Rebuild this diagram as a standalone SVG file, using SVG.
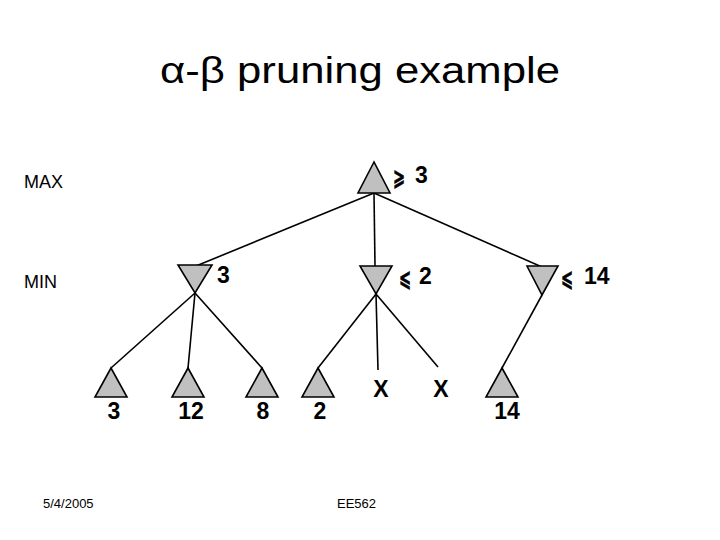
<svg xmlns="http://www.w3.org/2000/svg" width="720" height="540" viewBox="0 0 720 540">
<style>
.tri{fill:#c0c0c0;stroke:#000;stroke-width:1.6;stroke-linejoin:miter}
.edge{stroke:#000;stroke-width:1.6;fill:none}
.val{font-family:"Liberation Sans",Arial,sans-serif;font-weight:bold;font-size:23px;fill:#000}
.sym{font-family:"DejaVu Sans","Liberation Sans",sans-serif;font-weight:bold;font-size:23px;fill:#000;stroke:#000;stroke-width:0.8}
.lvl{font-family:"Liberation Sans",Arial,sans-serif;font-size:18px;fill:#000}
.foot{font-family:"Liberation Sans",Arial,sans-serif;font-size:13px;fill:#000}
</style>
<rect width="720" height="540" fill="#fff"/>
<text x="360" y="83" text-anchor="middle" font-family="'Liberation Sans',Arial,sans-serif" font-size="36" textLength="400" lengthAdjust="spacingAndGlyphs">α-β pruning example</text>
<text class="lvl" x="24" y="188">MAX</text>
<text class="lvl" x="24" y="288">MIN</text>
<g id="connectors">
<line class="edge" x1="374" y1="193" x2="196" y2="266"/>
<line class="edge" x1="374" y1="193" x2="375" y2="266"/>
<line class="edge" x1="374" y1="193" x2="542" y2="267"/>
<line class="edge" x1="195" y1="293" x2="111" y2="368"/>
<line class="edge" x1="195" y1="293" x2="188" y2="368"/>
<line class="edge" x1="195" y1="293" x2="262" y2="368"/>
<line class="edge" x1="376" y1="294" x2="318" y2="368"/>
<line class="edge" x1="376" y1="294" x2="378" y2="370"/>
<line class="edge" x1="376" y1="294" x2="438" y2="367"/>
<line class="edge" x1="542" y1="295" x2="502" y2="368"/>
</g>
<g id="root">
<polygon class="tri" points="374,162 358,193 390,193"/>
<text class="sym" x="393" y="185" textLength="12" lengthAdjust="spacingAndGlyphs">⩾</text>
<text class="val" x="415" y="183">3</text>
</g>
<g id="min1">
<polygon class="tri" points="178,265 212,265 195,293"/>
<text class="val" x="217" y="283">3</text>
</g>
<g id="min2">
<polygon class="tri" points="360,266 392,266 376,294"/>
<text class="sym" x="399" y="286" textLength="12" lengthAdjust="spacingAndGlyphs">⩽</text>
<text class="val" x="419" y="284">2</text>
</g>
<g id="min3">
<polygon class="tri" points="527,266 558,266 542,295"/>
<text class="sym" x="561" y="286" textLength="12" lengthAdjust="spacingAndGlyphs">⩽</text>
<text class="val" x="584" y="284">14</text>
</g>
<g id="leaf1">
<polygon class="tri" points="111,368 95,397 127,397"/>
<text class="val" x="114" y="419" text-anchor="middle">3</text>
</g>
<g id="leaf2">
<polygon class="tri" points="188,368 172,397 204,397"/>
<text class="val" x="191" y="419" text-anchor="middle">12</text>
</g>
<g id="leaf3">
<polygon class="tri" points="262,368 246,397 278,397"/>
<text class="val" x="263" y="419" text-anchor="middle">8</text>
</g>
<g id="leaf4">
<polygon class="tri" points="318,368 302,397 334,397"/>
<text class="val" x="320" y="419" text-anchor="middle">2</text>
</g>
<g id="x1">
<text class="val" x="381" y="397" text-anchor="middle">X</text>
</g>
<g id="x2">
<text class="val" x="441" y="397" text-anchor="middle">X</text>
</g>
<g id="leaf5">
<polygon class="tri" points="502,368 486,397 518,397"/>
<text class="val" x="507" y="419" text-anchor="middle">14</text>
</g>
<text class="foot" x="43" y="508">5/4/2005</text>
<text class="foot" x="337" y="508">EE562</text>
</svg>
